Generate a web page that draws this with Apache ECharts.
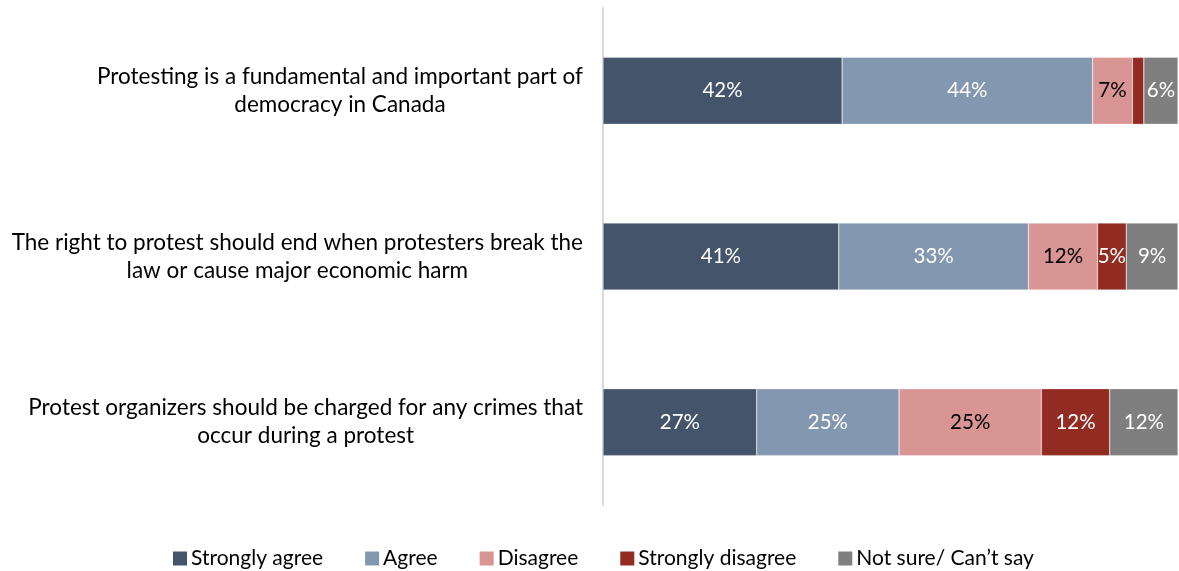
<!DOCTYPE html>
<html>
<head>
<meta charset="utf-8">
<script src="https://cdn.jsdelivr.net/npm/echarts@6/dist/echarts.min.js"></script>
<style>html,body{margin:0;padding:0;background:#fff;}#c{width:1179px;height:571px;}</style>
</head>
<body>
<div id="c"></div>
<script>
const categories = [
  "Protesting is a fundamental and important part of\ndemocracy in Canada",
  "The right to protest should end when protesters break the\nlaw or cause major economic harm",
  "Protest organizers should be charged for any crimes that\noccur during a protest"
];
const seriesNames = ["Strongly agree", "Agree", "Disagree", "Strongly disagree", "Not sure/ Can\u2019t say"];
const stronglyAgree = [42, 41, 27];
const agree = [44, 33, 25];
const disagree = [7, 12, 25];
const stronglyDisagree = [2, 5, 12];
const notSure = [6, 9, 12];
const colors = ["#44546A", "#8497B0", "#D99594", "#922B21", "#7F7F7F"];
const labelColors = ["#fff", "#fff", "#000", "#fff", "#fff"];

const allSeries = [stronglyAgree, agree, disagree, stronglyDisagree, notSure];
const rowTotals = categories.map((_, i) => allSeries.reduce((s, arr) => s + arr[i], 0));
const FONT = "Lato, 'Open Sans', sans-serif";

const series = allSeries.map((arr, k) => ({
  name: seriesNames[k],
  type: 'bar',
  stack: 'total',
  barWidth: 67,
  itemStyle: { color: colors[k], borderColor: 'rgba(255,255,255,0.6)', borderWidth: 0.5 },
  label: {
    show: true,
    position: 'inside',
    color: labelColors[k],
    fontFamily: FONT,
    fontSize: 20.5,
    formatter: p => (arr[p.dataIndex] < 3 ? '' : arr[p.dataIndex] + '%')
  },
  data: arr.map((v, i) => v / rowTotals[i] * 100)
}));

const chart = echarts.init(document.getElementById('c'));
chart.setOption({
  animation: false,
  grid: { left: 603, right: 1, top: 8, bottom: 66, containLabel: false },
  xAxis: { type: 'value', min: 0, max: 100, show: false },
  yAxis: {
    type: 'category',
    inverse: true,
    data: categories,
    axisLine: { show: true, lineStyle: { color: '#D9D9D9', width: 2 } },
    axisTick: { show: false },
    axisLabel: {
      margin: 20,
      align: 'right',
      fontFamily: FONT,
      fontSize: 22.5,
      color: '#000',
      lineHeight: 28,
      formatter: v => v.split('\n').map(l => '{a|' + l + '}').join('\n'),
      rich: { a: { align: 'center', fontFamily: FONT, fontSize: 22.5, lineHeight: 28, color: '#000' } }
    }
  },
  legend: {
    bottom: -3,
    left: 168,
    itemWidth: 14,
    itemHeight: 14,
    itemGap: 42,
    itemStyle: { borderWidth: 0 },
    icon: 'rect',
    textStyle: { fontFamily: FONT, fontSize: 21, color: '#000', padding: [0, 0, 0, -1] },
    data: seriesNames
  },
  series: series
});
</script>
</body>
</html>
